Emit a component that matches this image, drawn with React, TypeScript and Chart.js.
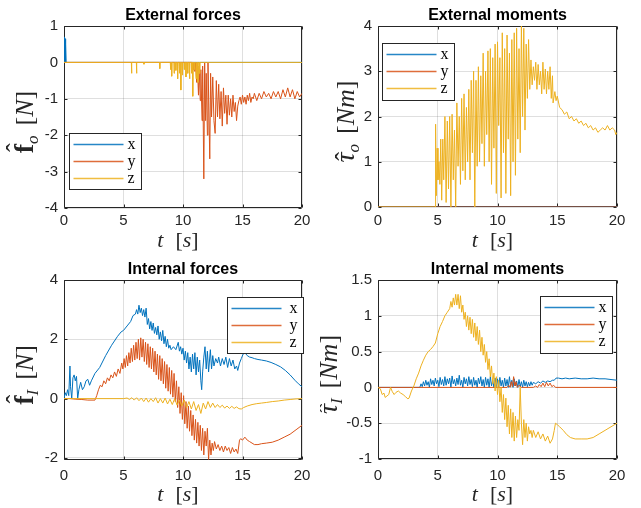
import React, { useEffect, useRef } from "react";
import { Chart, registerables } from "chart.js";

Chart.register(...registerables);

type P = [number, number];

// ---------- data ----------
const T_MIN = 0;
const T_MAX = 20;
const T_STEP = 5;
const SERIES_NAMES = ["x", "y", "z"];
const SERIES_COLORS = ["#0072BD", "#D95319", "#EDB120"];

// External forces
const extForceX: P[] = [[0, 0], [0.03, 0.7], [0.06, 0], [0.09, 0.65], [0.12, 0], [0.15, 0.5], [0.18, 0], [20, 0]];
const extForceY: P[] = [[0, 0], [10.8, 0], [10.85, -0.2], [10.9, 0], [11.0, -0.25], [11.05, 0], [11.15, -0.55], [11.2, 0], [11.3, -0.9], [11.35, -0.1], [11.45, -1.05], [11.5, -0.2], [11.6, -1.6], [11.65, -0.1], [11.75, -3.2], [11.82, 0], [11.9, -1.6], [11.95, -0.3], [12.05, -2.0], [12.1, 0], [12.25, -2.65], [12.32, -0.3], [12.4, -1.5], [12.5, -0.4], [12.6, -1.6], [12.7, -1.95], [12.8, -0.5], [12.9, -1.5], [13.0, -0.6], [13.1, -1.55], [13.2, -0.8], [13.3, -1.75], [13.4, -0.7], [13.5, -1.4], [13.6, -0.9], [13.7, -1.7], [13.8, -0.9], [13.9, -1.45], [14.0, -1.0], [14.1, -1.5], [14.2, -0.9], [14.3, -1.35], [14.4, -1.1], [14.5, -1.6], [14.6, -1.2], [14.7, -1.05], [14.8, -0.95], [14.9, -1.15], [15.0, -0.9], [15.1, -1.1], [15.2, -0.95], [15.3, -1.15], [15.4, -0.9], [15.5, -1.05], [15.6, -0.85], [15.7, -1.1], [15.8, -0.95], [15.9, -1.0], [16.0, -0.85], [16.2, -1.05], [16.4, -0.85], [16.6, -1.0], [16.8, -0.8], [17.0, -0.95], [17.2, -0.85], [17.4, -1.0], [17.6, -0.8], [17.8, -0.95], [18.0, -0.8], [18.2, -1.0], [18.4, -0.75], [18.6, -0.95], [18.8, -0.7], [19.0, -0.95], [19.2, -0.75], [19.4, -1.0], [19.6, -0.8], [19.8, -0.95], [20.0, -0.85]];
const extForceZ: P[] = [[0, 0], [5.66, 0], [5.68, -0.3], [5.7, 0], [6.08, 0], [6.1, -0.3], [6.12, 0], [6.7, 0], [6.72, -0.05], [6.74, 0], [8.03, 0], [8.05, -0.17], [8.07, 0], [8.93, 0], [8.95, -0.2], [8.98, 0], [9.03, 0], [9.05, -0.38], [9.08, 0], [9.23, 0], [9.25, -0.3], [9.28, 0], [9.38, 0], [9.4, -0.22], [9.43, 0], [9.53, 0], [9.55, -0.45], [9.58, 0], [9.68, 0], [9.7, -0.3], [9.73, 0], [9.8, 0], [9.82, -0.76], [9.85, 0], [9.93, 0], [9.95, -0.35], [9.98, 0], [10.08, 0], [10.1, -0.2], [10.13, 0], [10.23, 0], [10.25, -0.4], [10.28, 0], [10.38, 0], [10.4, -0.3], [10.43, 0], [10.53, 0], [10.55, -0.45], [10.58, 0], [10.68, 0], [10.7, -0.3], [10.73, 0], [10.8, 0], [10.82, -0.93], [10.85, 0], [10.93, 0], [10.95, -0.2], [10.98, 0], [11.08, 0], [11.1, -0.45], [11.13, 0], [11.23, 0], [11.25, -0.55], [11.28, 0], [11.38, 0], [11.4, -0.3], [11.43, 0], [20, 0]];

// External moments
const extMomentX: P[] = [[0, 0], [20, 0]];
const extMomentY: P[] = [[0, 0], [20, 0]];
const extMomentZ: P[] = [[0, 0], [4.78, 0], [4.82, 1.83], [4.88, 0.25], [4.95, 1.3], [5.02, 0.6], [5.1, 1.0], [5.18, 0.5], [5.25, 1.5], [5.33, 0.15], [5.42, 1.5], [5.5, 0.6], [5.6, 2.0], [5.7, 0.1], [5.8, 1.9], [5.9, 0.4], [6.0, 2.0], [6.1, 0], [6.2, 2.05], [6.3, 0.6], [6.4, 1.7], [6.5, 0.0], [6.6, 2.3], [6.7, 0.9], [6.8, 2.0], [6.9, 0.5], [7.0, 2.4], [7.1, 0.8], [7.2, 2.5], [7.3, 0.6], [7.4, 2.2], [7.5, 1.0], [7.6, 2.6], [7.7, 0.6], [7.8, 2.8], [7.9, 1.2], [8.0, 3.0], [8.1, 0.0], [8.2, 2.8], [8.3, 0.9], [8.4, 3.1], [8.5, 1.0], [8.6, 2.9], [8.7, 1.4], [8.8, 3.4], [8.9, 0.9], [9.0, 3.0], [9.1, 1.6], [9.2, 3.45], [9.3, 1.0], [9.4, 3.5], [9.5, 0.5], [9.6, 3.3], [9.7, 1.3], [9.8, 3.6], [9.9, 0.3], [10.0, 3.65], [10.1, 1.8], [10.2, 3.3], [10.3, 0.2], [10.4, 3.85], [10.5, 1.2], [10.6, 3.5], [10.7, 0.3], [10.8, 3.8], [10.9, 1.5], [11.0, 3.4], [11.1, 0.25], [11.2, 3.7], [11.3, 1.0], [11.4, 3.85], [11.5, 0.7], [11.6, 3.95], [11.7, 1.5], [11.8, 3.5], [11.9, 1.2], [12.0, 4.0], [12.1, 2.0], [12.2, 3.95], [12.3, 1.7], [12.4, 3.6], [12.5, 2.4], [12.6, 3.7], [12.7, 2.6], [12.8, 3.25], [12.9, 2.7], [13.0, 3.1], [13.1, 2.8], [13.2, 3.2], [13.3, 2.6], [13.4, 3.15], [13.5, 2.7], [13.6, 3.0], [13.7, 2.5], [13.8, 3.2], [13.9, 2.6], [14.0, 3.05], [14.1, 2.5], [14.2, 3.0], [14.3, 2.6], [14.4, 3.1], [14.5, 2.4], [14.6, 2.9], [14.65, 2.3], [14.8, 2.55], [14.9, 2.35], [15.0, 2.45], [15.2, 2.2], [15.4, 2.15], [15.6, 2.05], [15.8, 2.1], [16.0, 1.95], [16.2, 2.0], [16.4, 1.9], [16.6, 1.95], [16.8, 1.85], [17.0, 1.9], [17.2, 1.8], [17.4, 1.85], [17.6, 1.75], [17.8, 1.8], [18.0, 1.7], [18.2, 1.75], [18.4, 1.65], [18.6, 1.7], [18.8, 1.75], [19.0, 1.7], [19.2, 1.8], [19.4, 1.7], [19.6, 1.75], [19.8, 1.7], [19.9, 1.6], [20.0, 1.65]];

// Internal forces
const intForceX: P[] = [[0, 0], [0.1, 0.2], [0.2, 0.1], [0.3, 0.3], [0.4, 0.1], [0.5, 1.1], [0.55, 0.4], [0.65, 0.0], [0.75, 0.7], [0.85, 0.8], [0.95, 0.6], [1.05, 0.75], [1.15, 0.0], [1.25, 0.3], [1.4, 0.55], [1.55, 0.3], [1.7, 0.4], [1.85, 0.6], [2.0, 0.65], [2.15, 0.45], [2.3, 0.6], [2.6, 0.85], [3.0, 1.05], [3.5, 1.45], [4.0, 1.8], [4.5, 2.1], [4.8, 2.25], [5.0, 2.3], [5.3, 2.45], [5.6, 2.6], [5.8, 2.8], [6.0, 2.85], [6.1, 3.0], [6.2, 2.85], [6.3, 3.15], [6.4, 2.9], [6.5, 3.05], [6.6, 2.8], [6.7, 3.0], [6.8, 2.75], [6.9, 3.05], [7.0, 2.5], [7.1, 2.7], [7.2, 2.35], [7.3, 2.6], [7.4, 2.3], [7.5, 2.55], [7.6, 2.2], [7.7, 2.4], [7.8, 2.15], [7.9, 2.45], [8.0, 2.0], [8.1, 2.25], [8.2, 1.95], [8.3, 2.3], [8.4, 1.85], [8.5, 2.1], [8.6, 1.75], [8.7, 2.0], [8.8, 1.7], [8.9, 1.8], [9.0, 1.65], [9.2, 1.75], [9.4, 1.65], [9.6, 1.9], [9.7, 1.6], [9.8, 1.75], [9.9, 1.5], [10.0, 1.7], [10.1, 1.3], [10.2, 1.6], [10.3, 1.2], [10.4, 1.55], [10.5, 1.0], [10.6, 1.4], [10.7, 0.9], [10.8, 1.5], [10.9, 1.0], [11.0, 1.55], [11.1, 0.8], [11.2, 1.4], [11.3, 0.9], [11.4, 1.3], [11.5, 0.6], [11.57, 0.3], [11.65, 0.9], [11.75, 1.4], [11.85, 1.75], [11.95, 1.0], [12.05, 1.6], [12.15, 0.9], [12.3, 1.65], [12.4, 1.0], [12.5, 1.45], [12.6, 1.1], [12.75, 1.35], [12.9, 1.2], [13.0, 1.4], [13.15, 1.1], [13.3, 1.35], [13.45, 1.15], [13.6, 1.4], [13.75, 1.05], [13.9, 1.35], [14.05, 1.1], [14.2, 1.3], [14.35, 1.0], [14.5, 1.1], [14.6, 0.95], [14.75, 1.2], [14.9, 1.35], [15.05, 1.5], [15.2, 1.55], [15.4, 1.45], [15.6, 1.4], [15.8, 1.38], [16.0, 1.35], [16.3, 1.32], [16.6, 1.3], [17.0, 1.27], [17.4, 1.22], [17.8, 1.15], [18.2, 1.07], [18.6, 0.95], [19.0, 0.8], [19.4, 0.62], [19.7, 0.5], [20.0, 0.4]];
const intForceY: P[] = [[0, 0], [0.5, 0.0], [1.0, -0.02], [1.5, -0.03], [2.0, -0.05], [2.6, -0.05], [2.75, 0.1], [2.9, 0.3], [3.05, 0.45], [3.2, 0.4], [3.35, 0.6], [3.5, 0.5], [3.65, 0.7], [3.8, 0.6], [3.95, 0.8], [4.1, 0.7], [4.25, 0.9], [4.4, 0.75], [4.55, 1.0], [4.7, 0.85], [4.85, 1.2], [4.95, 1.0], [5.05, 1.35], [5.15, 1.05], [5.25, 1.45], [5.35, 1.1], [5.45, 1.55], [5.55, 1.2], [5.65, 1.7], [5.75, 1.25], [5.85, 1.8], [5.95, 1.3], [6.05, 1.9], [6.15, 1.35], [6.25, 2.0], [6.35, 1.3], [6.45, 2.05], [6.55, 1.4], [6.65, 2.0], [6.75, 1.25], [6.85, 1.9], [6.95, 1.15], [7.05, 1.85], [7.15, 1.05], [7.25, 1.75], [7.35, 1.0], [7.45, 1.7], [7.55, 0.9], [7.65, 1.6], [7.75, 0.8], [7.85, 1.5], [7.95, 0.65], [8.05, 1.45], [8.15, 0.6], [8.25, 1.35], [8.35, 0.5], [8.45, 1.25], [8.55, 0.35], [8.65, 1.15], [8.75, 0.25], [8.85, 1.05], [8.95, 0.15], [9.05, 0.95], [9.15, 0.05], [9.25, 0.85], [9.35, -0.1], [9.45, 0.6], [9.55, -0.3], [9.65, 0.4], [9.75, -0.5], [9.85, 0.2], [9.95, -0.7], [10.05, 0.1], [10.15, -0.85], [10.25, -0.1], [10.35, -1.0], [10.45, -0.25], [10.55, -1.1], [10.65, -0.4], [10.75, -1.25], [10.85, -0.55], [10.95, -1.4], [11.05, -0.7], [11.15, -1.5], [11.25, -0.8], [11.35, -1.6], [11.45, -0.9], [11.55, -1.75], [11.65, -1.0], [11.75, -1.9], [11.85, -1.1], [11.95, -1.6], [12.05, -1.0], [12.15, -2.05], [12.25, -1.4], [12.35, -1.9], [12.45, -1.5], [12.55, -1.75], [12.65, -1.45], [12.8, -1.7], [12.95, -1.55], [13.1, -1.75], [13.25, -1.6], [13.4, -1.8], [13.55, -1.6], [13.7, -1.75], [13.85, -1.65], [14.0, -1.85], [14.15, -1.65], [14.3, -1.8], [14.45, -1.7], [14.6, -1.85], [14.75, -1.4], [14.85, -1.35], [15.0, -1.4], [15.2, -1.3], [15.4, -1.4], [15.6, -1.45], [15.8, -1.5], [16.0, -1.55], [16.3, -1.55], [16.6, -1.52], [17.0, -1.5], [17.5, -1.47], [18.0, -1.4], [18.5, -1.3], [19.0, -1.2], [19.5, -1.05], [20.0, -0.9]];
const intForceZ: P[] = [[0, 0], [5.0, 0], [5.3, 0.02], [5.5, -0.03], [5.7, 0.03], [5.9, -0.05], [6.1, 0.03], [6.3, -0.07], [6.5, 0.02], [6.7, -0.1], [6.9, 0.02], [7.1, -0.12], [7.3, 0.0], [7.5, -0.1], [7.7, 0.03], [7.9, -0.15], [8.1, 0.0], [8.3, -0.15], [8.5, 0.02], [8.7, -0.18], [8.9, -0.02], [9.1, -0.2], [9.3, 0.0], [9.5, -0.22], [9.7, -0.05], [9.9, -0.25], [10.1, -0.05], [10.3, -0.3], [10.5, -0.1], [10.7, -0.35], [10.9, -0.1], [11.1, -0.4], [11.3, -0.2], [11.5, -0.5], [11.7, -0.15], [11.9, -0.35], [12.1, -0.1], [12.3, -0.3], [12.5, -0.15], [12.7, -0.3], [12.9, -0.2], [13.1, -0.3], [13.3, -0.22], [13.5, -0.32], [13.7, -0.25], [13.9, -0.33], [14.1, -0.26], [14.3, -0.33], [14.5, -0.28], [14.7, -0.34], [14.9, -0.35], [15.1, -0.3], [15.4, -0.25], [15.8, -0.2], [16.2, -0.17], [16.6, -0.15], [17.0, -0.13], [17.5, -0.1], [18.0, -0.08], [18.5, -0.05], [19.0, -0.03], [19.5, -0.01], [20.0, 0]];

// Internal moments
const intMomentX: P[] = [[0, 0], [3.5, 0], [3.6, 0.05], [3.7, 0.01], [3.8, 0.08], [3.9, 0.02], [4.0, 0.1], [4.1, 0.03], [4.2, 0.08], [4.3, 0.0], [4.4, 0.12], [4.5, 0.04], [4.6, 0.1], [4.7, 0.02], [4.8, 0.13], [4.9, 0.05], [5.0, 0.1], [5.1, 0.01], [5.2, 0.14], [5.3, 0.04], [5.4, 0.11], [5.5, 0.02], [5.6, 0.15], [5.7, 0.03], [5.8, 0.12], [5.9, 0.05], [6.0, 0.13], [6.1, 0.0], [6.2, 0.16], [6.3, 0.05], [6.4, 0.11], [6.5, 0.02], [6.6, 0.13], [6.7, 0.04], [6.8, 0.17], [6.9, 0.03], [7.0, 0.1], [7.1, 0.0], [7.2, 0.14], [7.3, 0.05], [7.4, 0.12], [7.5, 0.02], [7.6, 0.15], [7.7, 0.04], [7.8, 0.11], [7.9, 0.01], [8.0, 0.14], [8.1, 0.03], [8.2, 0.1], [8.3, 0.0], [8.4, 0.13], [8.5, 0.05], [8.6, 0.15], [8.7, 0.02], [8.8, 0.11], [8.9, 0.0], [9.0, 0.14], [9.1, 0.03], [9.2, 0.12], [9.3, 0.0], [9.4, 0.15], [9.5, 0.02], [9.6, 0.1], [9.7, 0.0], [9.8, 0.13], [9.9, 0.01], [10.0, 0.12], [10.1, 0.0], [10.2, 0.14], [10.3, 0.02], [10.4, 0.1], [10.5, 0.0], [10.6, 0.13], [10.7, 0.02], [10.8, 0.11], [10.9, 0.0], [11.0, 0.15], [11.1, 0.01], [11.2, 0.1], [11.3, 0.0], [11.4, 0.12], [11.5, 0.02], [11.6, 0.09], [11.7, 0.0], [11.8, 0.11], [11.9, 0.01], [12.0, 0.08], [12.1, 0.0], [12.2, 0.1], [12.3, 0.02], [12.4, 0.08], [12.5, 0.01], [12.6, 0.07], [12.7, 0.02], [12.8, 0.08], [12.9, 0.03], [13.0, 0.07], [13.2, 0.05], [13.4, 0.08], [13.6, 0.06], [13.8, 0.09], [14.0, 0.07], [14.2, 0.09], [14.4, 0.08], [14.6, 0.1], [14.75, 0.1], [14.9, 0.13], [15.1, 0.13], [15.4, 0.12], [15.7, 0.13], [16.0, 0.12], [16.5, 0.13], [17.0, 0.12], [17.5, 0.12], [18.0, 0.13], [18.5, 0.12], [19.0, 0.12], [19.5, 0.11], [20.0, 0.1]];
const intMomentY: P[] = [[0, 0], [10.8, 0], [10.95, 0.03], [11.05, 0.0], [11.15, 0.08], [11.25, 0.01], [11.35, 0.15], [11.45, 0.02], [11.55, 0.08], [11.65, 0.0], [11.8, 0.03], [12.0, 0], [13.0, 0], [13.2, 0.02], [13.35, 0.0], [13.5, 0.04], [13.65, 0.01], [13.8, 0.06], [13.95, 0.01], [14.1, 0.07], [14.25, 0.02], [14.4, 0.06], [14.55, 0.01], [14.7, 0.03], [14.85, 0], [20, 0]];
const intMomentZ: P[] = [[0, 0], [0.2, -0.02], [0.35, -0.1], [0.5, -0.08], [0.6, -0.14], [0.75, -0.12], [0.9, -0.1], [1.05, 0.0], [1.2, -0.06], [1.35, -0.1], [1.5, -0.07], [1.7, -0.05], [1.9, -0.08], [2.1, -0.1], [2.3, -0.13], [2.5, -0.16], [2.6, -0.15], [2.8, -0.05], [3.0, 0.02], [3.2, 0.12], [3.4, 0.2], [3.6, 0.3], [3.8, 0.38], [4.0, 0.45], [4.2, 0.5], [4.4, 0.53], [4.6, 0.57], [4.8, 0.62], [5.0, 0.75], [5.2, 0.85], [5.4, 0.92], [5.6, 1.0], [5.8, 1.05], [6.0, 1.1], [6.1, 1.2], [6.2, 1.12], [6.3, 1.25], [6.4, 1.15], [6.5, 1.3], [6.6, 1.15], [6.7, 1.3], [6.8, 1.1], [6.9, 1.28], [7.0, 1.05], [7.1, 1.15], [7.2, 0.95], [7.3, 1.05], [7.4, 0.85], [7.5, 1.0], [7.6, 0.8], [7.7, 0.98], [7.8, 0.75], [7.9, 0.95], [8.0, 0.7], [8.1, 0.9], [8.2, 0.65], [8.3, 0.85], [8.4, 0.6], [8.5, 0.8], [8.6, 0.5], [8.7, 0.7], [8.8, 0.45], [8.9, 0.6], [9.0, 0.35], [9.1, 0.5], [9.2, 0.25], [9.3, 0.4], [9.4, 0.15], [9.5, 0.3], [9.6, 0.05], [9.7, 0.2], [9.8, -0.05], [9.9, 0.15], [10.0, -0.1], [10.1, 0.1], [10.2, -0.2], [10.3, 0.0], [10.4, -0.35], [10.5, -0.1], [10.6, -0.45], [10.7, -0.15], [10.8, -0.55], [10.9, -0.25], [11.0, -0.65], [11.1, -0.3], [11.2, -0.7], [11.3, -0.35], [11.4, -0.75], [11.5, -0.4], [11.6, -0.7], [11.7, -0.45], [11.8, -0.6], [11.9, 0.0], [12.0, -0.5], [12.1, -0.8], [12.2, -0.45], [12.3, -0.7], [12.4, -0.5], [12.5, -0.75], [12.6, -0.55], [12.7, -0.65], [12.8, -0.6], [12.9, -0.7], [13.0, -0.6], [13.2, -0.7], [13.4, -0.62], [13.6, -0.72], [13.8, -0.65], [14.0, -0.75], [14.2, -0.68], [14.4, -0.78], [14.6, -0.72], [14.75, -0.6], [14.85, -0.5], [15.0, -0.52], [15.2, -0.55], [15.5, -0.6], [15.8, -0.66], [16.1, -0.7], [16.5, -0.72], [17.0, -0.72], [17.5, -0.72], [18.0, -0.7], [18.5, -0.65], [19.0, -0.6], [19.5, -0.55], [20.0, -0.5]];

// ---------- presentation ----------
const INK = "#262626";
const GRID = "rgba(38,38,38,0.15)";
const SANS = '"Liberation Sans", Arial, Helvetica, sans-serif';
const SERIF = '"Liberation Serif", "Times New Roman", serif';

type Run = { t?: string; font?: string; dy?: number; hat?: number; gap?: number };

const fLabel = (sub: string): Run[] => [
  { t: "f", font: `bold 28px ${SERIF}`, hat: 9 },
  { t: sub, font: `italic 17px ${SERIF}`, dy: 5 },
  { gap: 10 },
  { t: "[", font: `26px ${SERIF}` },
  { t: "N", font: `italic 26px ${SERIF}` },
  { t: "]", font: `26px ${SERIF}` },
];
const tauLabel = (sub: string): Run[] => [
  { t: "\u03C4", font: `italic 28px ${SERIF}`, hat: 1 },
  { t: sub, font: `italic 17px ${SERIF}`, dy: 5 },
  { gap: 10 },
  { t: "[", font: `26px ${SERIF}` },
  { t: "Nm", font: `italic 26px ${SERIF}` },
  { t: "]", font: `26px ${SERIF}` },
];
const xLabel: Run[] = [
  { t: "t", font: `italic 22px ${SERIF}` },
  { gap: 12 },
  { t: "[", font: `22px ${SERIF}` },
  { t: "s", font: `italic 22px ${SERIF}` },
  { t: "]", font: `22px ${SERIF}` },
];

interface Panel {
  title: string;
  series: P[][];
  yMin: number;
  yMax: number;
  yStep: number;
  yLabel: Run[];
  box: { left: number; top: number; width: number; height: number };
  area: { left: number; top: number; right: number; bottom: number };
  tickPad: number;
  yLabelX: number;
  xLabelDy: number;
  legend: { dx: number; dy: number; w: number; h: number };
}

const panels: Panel[] = [
  {
    title: "External forces",
    series: [extForceX, extForceY, extForceZ],
    yMin: -4, yMax: 1, yStep: 1,
    yLabel: fLabel("o"),
    box: { left: 0, top: 0, width: 320, height: 254 },
    area: { left: 64, top: 26, right: 302, bottom: 208 },
    tickPad: 4, yLabelX: 33, xLabelDy: 39,
    legend: { dx: 5, dy: 107, w: 72, h: 56 },
  },
  {
    title: "External moments",
    series: [extMomentX, extMomentY, extMomentZ],
    yMin: 0, yMax: 4, yStep: 1,
    yLabel: tauLabel("o"),
    box: { left: 320, top: 0, width: 321, height: 254 },
    area: { left: 58, top: 26, right: 297, bottom: 207 },
    tickPad: 5, yLabelX: 34, xLabelDy: 40,
    legend: { dx: 4, dy: 17, w: 72, h: 57 },
  },
  {
    title: "Internal forces",
    series: [intForceX, intForceY, intForceZ],
    yMin: -2.07, yMax: 4, yStep: 2,
    yLabel: fLabel("I"),
    box: { left: 0, top: 254, width: 320, height: 254 },
    area: { left: 64, top: 26, right: 302, bottom: 206 },
    tickPad: 7, yLabelX: 33, xLabelDy: 41,
    legend: { dx: 163, dy: 17, w: 76, h: 56 },
  },
  {
    title: "Internal moments",
    series: [intMomentX, intMomentY, intMomentZ],
    yMin: -1, yMax: 1.5, yStep: 0.5,
    yLabel: tauLabel("I"),
    box: { left: 320, top: 254, width: 321, height: 254 },
    area: { left: 58, top: 26, right: 297, bottom: 205 },
    tickPad: 8, yLabelX: 17, xLabelDy: 42,
    legend: { dx: 162, dy: 16, w: 72, h: 57 },
  },
];

function runsWidth(ctx: CanvasRenderingContext2D, runs: Run[]) {
  let w = 0;
  for (const r of runs) {
    if (r.gap) { w += r.gap; continue; }
    ctx.font = r.font!;
    w += ctx.measureText(r.t!).width;
  }
  return w;
}

function drawRuns(ctx: CanvasRenderingContext2D, runs: Run[], x0: number, y0: number) {
  let x = x0;
  ctx.textBaseline = "alphabetic";
  ctx.textAlign = "left";
  for (const r of runs) {
    if (r.gap) { x += r.gap; continue; }
    ctx.font = r.font!;
    const w = ctx.measureText(r.t!).width;
    ctx.fillText(r.t!, x, y0 + (r.dy || 0));
    if (r.hat !== undefined) {
      ctx.font = `26px ${SERIF}`;
      const hw = ctx.measureText("\u02C6").width;
      ctx.fillText("\u02C6", x + w / 2 - hw / 2 + 1, y0 - r.hat);
    }
    x += w;
  }
}

function makePlugin(p: Panel) {
  return {
    id: "matlabLook",
    beforeDatasetsDraw(chart: any) {
      const { ctx, chartArea: a, scales } = chart;
      ctx.save();
      ctx.strokeStyle = INK;
      ctx.lineWidth = 1;
      const L = Math.round(a.left) + 0.5, R = Math.round(a.right) - 0.5;
      const T = Math.round(a.top) + 0.5, B = Math.round(a.bottom) - 0.5;
      ctx.beginPath();
      ctx.rect(L, T, R - L, B - T);
      const tl = 3;
      for (const tk of scales.x.ticks) {
        const px = Math.round(scales.x.getPixelForValue(tk.value)) + 0.5;
        ctx.moveTo(px, B); ctx.lineTo(px, B - tl);
        ctx.moveTo(px, T); ctx.lineTo(px, T + tl);
      }
      for (const tk of scales.y.ticks) {
        const py = Math.round(scales.y.getPixelForValue(tk.value)) + 0.5;
        ctx.moveTo(L, py); ctx.lineTo(L + tl, py);
        ctx.moveTo(R, py); ctx.lineTo(R - tl, py);
      }
      ctx.stroke();
      ctx.restore();
    },
    afterDatasetsDraw(chart: any) {
      const { ctx, chartArea: a } = chart;
      const lg = p.legend;
      const lx = Math.round(a.left + lg.dx) + 0.5;
      const ly = Math.round(a.top + lg.dy) + 0.5;
      ctx.save();
      ctx.fillStyle = "#ffffff";
      ctx.fillRect(lx, ly, lg.w, lg.h);
      ctx.strokeStyle = INK;
      ctx.lineWidth = 1;
      ctx.strokeRect(lx, ly, lg.w, lg.h);
      chart.data.datasets.forEach((ds: any, i: number) => {
        const ry = ly + 11 + i * 17;
        ctx.strokeStyle = ds.borderColor;
        ctx.globalAlpha = 0.85;
        ctx.lineWidth = 1.5;
        ctx.beginPath();
        ctx.moveTo(lx + 4, ry);
        ctx.lineTo(lx + 54, ry);
        ctx.stroke();
        ctx.globalAlpha = 1;
        ctx.fillStyle = "#000000";
        ctx.font = `16px ${SERIF}`;
        ctx.textBaseline = "alphabetic";
        ctx.textAlign = "left";
        ctx.fillText(ds.label, lx + lg.w - 14, ry + 4);
      });
      ctx.restore();
    },
    afterDraw(chart: any) {
      const { ctx, chartArea: a } = chart;
      const cx = (a.left + a.right) / 2;
      ctx.save();
      ctx.fillStyle = "#000000";
      // title
      ctx.font = `bold 16px ${SANS}`;
      ctx.textAlign = "center";
      ctx.textBaseline = "alphabetic";
      ctx.fillText(p.title, cx, a.top - 6);
      // x label
      ctx.fillStyle = INK;
      const xw = runsWidth(ctx, xLabel);
      drawRuns(ctx, xLabel, cx - 5 - xw / 2, a.bottom + p.xLabelDy);
      // y label (rotated)
      const cy = (a.top + a.bottom) / 2 + 5;
      const yw = runsWidth(ctx, p.yLabel);
      ctx.translate(p.yLabelX, cy);
      ctx.rotate(-Math.PI / 2);
      drawRuns(ctx, p.yLabel, -yw / 2, 0);
      ctx.restore();
    },
  };
}

function PanelChart({ p }: { p: Panel }) {
  const ref = useRef<HTMLCanvasElement>(null);
  useEffect(() => {
    const canvas = ref.current!;
    const tickFont = { family: SANS, size: 15 };
    const chart = new Chart(canvas, {
      type: "line",
      data: {
        datasets: p.series.map((s, i) => ({
          label: SERIES_NAMES[i],
          data: s.map(([t, v]) => ({ x: t, y: v })),
          borderColor: SERIES_COLORS[i],
          backgroundColor: SERIES_COLORS[i],
          borderWidth: 1,
          pointRadius: 0,
          tension: 0,
          fill: false,
          order: 2 - i,
        })),
      },
      options: {
        responsive: false,
        animation: false,
        devicePixelRatio: 1,
        events: [],
        layout: {
          padding: {
            top: p.area.top,
            right: p.box.width - p.area.right,
            left: 0,
            bottom: 0,
          },
        },
        plugins: {
          legend: { display: false },
          tooltip: { enabled: false },
          title: { display: false },
        },
        scales: {
          x: {
            type: "linear",
            min: T_MIN,
            max: T_MAX,
            ticks: {
              stepSize: T_STEP,
              font: tickFont,
              color: INK,
              padding: p.tickPad,
              maxRotation: 0,
              includeBounds: false,
              callback: (v: any) => String(v),
            },
            grid: { color: GRID, drawTicks: false, lineWidth: 1 },
            border: { display: false },
            afterFit: (s: any) => { s.height = p.box.height - p.area.bottom; },
          },
          y: {
            type: "linear",
            min: p.yMin,
            max: p.yMax,
            ticks: {
              stepSize: p.yStep,
              font: tickFont,
              color: INK,
              padding: 6,
              includeBounds: false,
              callback: (v: any) => String(Math.round(Number(v) * 100) / 100),
            },
            grid: { color: GRID, drawTicks: false, lineWidth: 1 },
            border: { display: false },
            afterFit: (s: any) => { s.width = p.area.left; },
          },
        },
      } as any,
      plugins: [makePlugin(p)],
    });
    return () => chart.destroy();
  }, [p]);
  return (
    <div style={{ position: "absolute", left: p.box.left, top: p.box.top, width: p.box.width, height: p.box.height }}>
      <canvas ref={ref} width={p.box.width} height={p.box.height} style={{ display: "block" }} />
    </div>
  );
}

export default function App() {
  return (
    <div style={{ position: "absolute", left: 0, top: 0, width: 641, height: 508, background: "#ffffff" }}>
      {panels.map((p, i) => (
        <PanelChart key={i} p={p} />
      ))}
    </div>
  );
}
